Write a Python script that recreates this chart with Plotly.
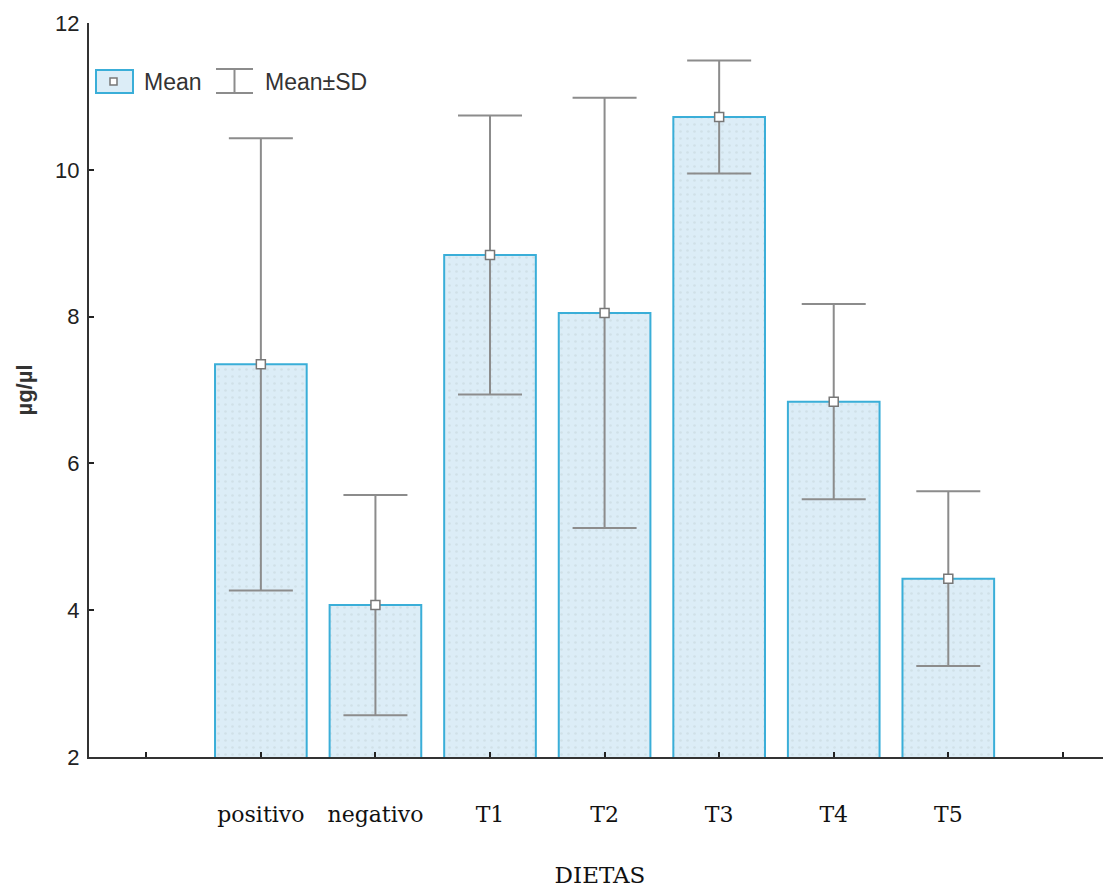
import plotly.graph_objects as go

categories = ["positivo", "negativo", "T1", "T2", "T3", "T4", "T5"]
means = [7.35, 4.07, 8.84, 8.05, 10.72, 6.84, 4.43]
sds = [3.08, 1.50, 1.90, 2.93, 0.77, 1.33, 1.19]
y_ticks = [2, 4, 6, 8, 10, 12]

xpos = list(range(1, len(categories) + 1))
tickvals = [0] + xpos + [len(categories) + 1]
ticktext = [""] + categories + [""]

# page body has an 8px margin; size the figure so the plot area lands where the reference has it
OFF = 8
W, H = 1111 - OFF, 888 - OFF
L, T = 89 - OFF, 23 - OFF
B = (H + OFF) - 757
PW = W - L
PH = H - T - B

def pxx(x):  # page x -> paper
    return (x - 89) / PW
def pyy(y):  # page y -> paper
    return (757 - y) / PH

fig = go.Figure()
fig.add_trace(go.Bar(
    x=xpos, y=means, width=0.8,
    marker=dict(color="#dcedf7", line=dict(color="#3aaed8", width=2),
                pattern=dict(shape=".", fgcolor="#c4d3da", bgcolor="#dcedf7",
                             size=7, solidity=0.12)),
    showlegend=False, hoverinfo="skip",
))
fig.add_trace(go.Scatter(
    x=xpos, y=means, mode="markers",
    marker=dict(symbol="square", size=9, color="white",
                line=dict(color="#777777", width=1.5)),
    error_y=dict(type="data", array=sds, visible=True, color="#8c8c8c",
                 thickness=2, width=32),
    showlegend=False, cliponaxis=False,
))

grey = "#8c8c8c"
shapes = [
    dict(type="rect", xref="paper", yref="paper", x0=pxx(96), x1=pxx(133),
         y0=pyy(93), y1=pyy(70), line=dict(color="#3aaed8", width=2), fillcolor="#dcedf7"),
    dict(type="rect", xref="paper", yref="paper", x0=pxx(110), x1=pxx(117),
         y0=pyy(85), y1=pyy(78), line=dict(color="#777777", width=1.5), fillcolor="white"),
    dict(type="line", xref="paper", yref="paper", x0=pxx(216), x1=pxx(253),
         y0=pyy(69), y1=pyy(69), line=dict(color=grey, width=2)),
    dict(type="line", xref="paper", yref="paper", x0=pxx(216), x1=pxx(253),
         y0=pyy(93), y1=pyy(93), line=dict(color=grey, width=2)),
    dict(type="line", xref="paper", yref="paper", x0=pxx(234.5), x1=pxx(234.5),
         y0=pyy(93), y1=pyy(69), line=dict(color=grey, width=2)),
]
leg_font = dict(family="Liberation Sans, Arial", size=23, color="#333333")
annotations = [
    dict(xref="paper", yref="paper", x=pxx(142), y=pyy(82), text="Mean",
         showarrow=False, xanchor="left", yanchor="middle", font=leg_font),
    dict(xref="paper", yref="paper", x=pxx(263), y=pyy(82), text="Mean±SD",
         showarrow=False, xanchor="left", yanchor="middle", font=leg_font),
]

serif = "DejaVu Serif, Liberation Serif, serif"
fig.update_layout(
    width=W, height=H,
    margin=dict(l=L, r=0, t=T, b=B, pad=0),
    plot_bgcolor="white", paper_bgcolor="white",
    shapes=shapes, annotations=annotations,
    xaxis=dict(range=[-0.5, 8.42], tickmode="array", tickvals=tickvals, ticktext=ticktext,
               ticks="inside", ticklen=5, tickwidth=2, tickcolor="#222222",
               showline=True, linecolor="#333333", linewidth=2, showgrid=False,
               zeroline=False, ticklabelstandoff=37,
               tickfont=dict(family=serif, size=22, color="#111111"),
               title=dict(text="DIETAS", standoff=40,
                          font=dict(family=serif, size=23, color="#111111"))),
    yaxis=dict(range=[2, 12], tickvals=y_ticks, ticks="inside", ticklen=5, tickwidth=2,
               tickcolor="#222222", showline=True, linecolor="#333333", linewidth=2,
               showgrid=False, zeroline=False, ticklabelstandoff=3,
               tickfont=dict(family="Liberation Sans, Arial", size=22, color="#222222"),
               title=dict(text="<b>µg/µl</b>", standoff=16,
                          font=dict(family="Liberation Sans, Arial", size=22, color="#333333"))),
)

fig.write_html("out.html")
